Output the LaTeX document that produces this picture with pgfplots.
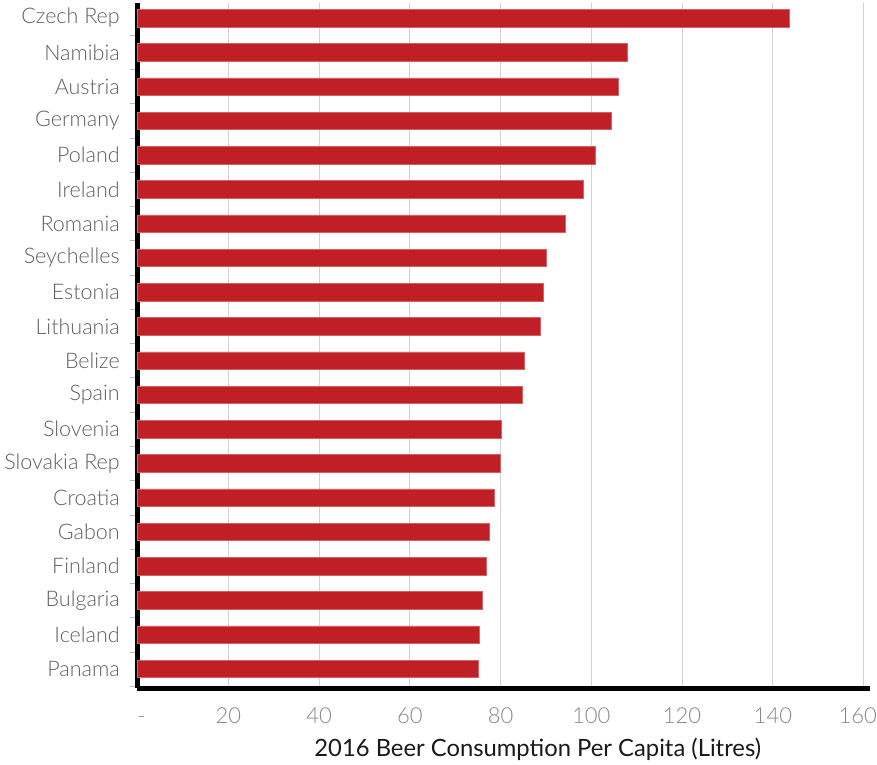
\documentclass[border=0pt]{standalone}
\usepackage{pgfplots}
\pgfplotsset{compat=1.18}
\usepackage{fontspec}
\setmainfont{Lato}
\newfontfamily\latolight{Lato Light}
\definecolor{barred}{RGB}{192,31,38}
\definecolor{ticklab}{RGB}{135,135,135}
\definecolor{ylab}{RGB}{95,95,95}
\begin{document}
\begin{tikzpicture}
\begin{axis}[
  name=main,
  xbar,
  scale only axis,
  width=732.5pt, height=685pt,
  xmin=0, xmax=161.4,
  ymin=-0.555, ymax=19.44,
  bar width=17.5pt,
  axis x line=bottom, axis y line=left,
  axis line style={-, line width=5pt, black},
  xtick={0,20,...,160},
  xticklabels={\hspace*{8pt}\vphantom{0}-,20,40,60,80,100,120,140,\hspace*{-12pt}160},
  xmajorgrids,
  grid style={gray!35, line width=0.8pt},
  major x tick style={draw=none},
  ytick={0,...,19},
  yticklabels={Panama,Iceland,Bulgaria,Finland,Gabon,Croatia,Slovakia Rep,Slovenia,Spain,Belize,Lithuania,Estonia,Seychelles,Romania,Ireland,Poland,Germany,Austria,Namibia,Czech Rep},
  major y tick style={draw=none},
  minor ytick={-0.5,0.5,...,19.5},
  minor y tick style={gray!50, line width=0.6pt},
  tick align=outside,
  minor tick length=7pt,
  xticklabel style={font=\latolight\fontsize{22}{26}\selectfont, text=ticklab, yshift=-11.5pt},
  yticklabel style={font=\latolight\fontsize{21.5}{26}\selectfont, text=ylab, xshift=-10pt},
  xlabel={2016 Beer Consumption Per Capita (Litres)},
  xlabel style={font=\fontsize{23.8}{27}\selectfont, text=black!90, yshift=-8pt, xshift=34pt},
  clip=false,
]
\addplot[fill=barred, draw=barred!70!white, line width=0.5pt] coordinates {
(75.0,0) (75.2,1) (76.0,2) (76.8,3) (77.6,4) (78.6,5) (80.0,6) (80.2,7) (84.8,8) (85.2,9)
(88.7,10) (89.5,11) (90.0,12) (94.2,13) (98.2,14) (100.9,15) (104.4,16) (106.0,17) (108.0,18) (143.5,19)
};
\end{axis}
\pgfresetboundingbox
\path[use as bounding box] ([xshift=-137.5pt,yshift=-76pt]main.south west) rectangle ([xshift=7pt,yshift=3pt]main.north east);
\end{tikzpicture}
\end{document}
